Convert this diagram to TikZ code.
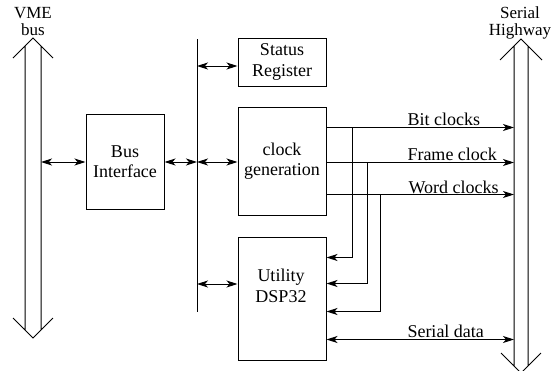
\documentclass[tikz,border=0pt]{standalone}
\usepackage{fontspec}
\setmainfont{Liberation Serif}
\usetikzlibrary{positioning,arrows.meta}

\begin{document}
\begin{tikzpicture}[x=1pt, y=-1pt,
        font=\fontsize{18}{20.5}\selectfont,
        line width=1pt,
        block/.style={draw, minimum width=88pt, inner sep=0pt, align=center},
        lbl/.style={inner sep=0pt, align=center},
        buslbl/.style={lbl, font=\fontsize{17}{17}\selectfont},
        >={Stealth[length=11pt, width=7pt, inset=3pt]} % Pfeilspitzen
        ]
            \useasboundingbox (0,0) rectangle (555,370);

            % Bloecke
            \node[block, minimum width=78pt, minimum height=95pt] (bi) at (125,161.5) {Bus\\Interface};
            \node[block, minimum height=48pt]  (sr)  at (282,62)    {Status\\Register};
            \node[block, minimum height=108pt] (cg)  at (282,161)   {clock\\generation};
            \node[block, minimum height=123pt] (dsp) at (282,298.5) {};
            \node[lbl] (dsptxt) at (281,286) {Utility\\DSP32};

            % VME-Bus (links)
            \coordinate (vmetop) at (33,38);
            \coordinate (vmebot) at (33,338);
            \draw   (13,58) -- (vmetop) -- (53,58)
                    (13,318) -- (vmebot) -- (53,318)
                    (25,46) -- (25,330)
                    (41,46) -- (41,330);
            \node[buslbl] (tvme) at (33,22) {VME\\bus};

            % Serial Highway (rechts)
            \coordinate (shtop) at (521,39);
            \coordinate (shbot) at (521,373);
            \draw   (500,60) -- (shtop) -- (542,60)
                    (501,353) -- (shbot) -- (541,353)
                    (514,46) -- (514,366)
                    (528,46) -- (528,366);
            \node[buslbl] (tsh) at (520,23) {Serial\\Highway};
            \coordinate (shl) at (514,0);

            % interner Bus
            \coordinate (ibtop) at (197,39);
            \coordinate (ibbot) at (197,312);
            \draw (ibtop) -- (ibbot);

            % Anschluesse an die Busse
            \coordinate (tvm) at (41,162);
            \coordinate (tbi) at (197,162);
            \coordinate (tsr) at (197,66);
            \coordinate (tds) at (197,284);
            \draw[<->] (tvm) -- (tvm -| bi.west);
            \draw[<->] (tvm -| bi.east) -- (tbi);
            \draw[<->] (tsr) -- (tsr -| sr.west);
            \draw[<->] (tbi) -- (tbi -| cg.west);
            \draw[<->] (tds) -- (tds -| dsp.west);

            % Takte
            \path (cg.north east) ++(0,21) coordinate (bit)
                  (cg.north east) ++(0,56) coordinate (frame)
                  (cg.north east) ++(0,88) coordinate (word);
            \path (dsp.north east) ++(0,21)  coordinate (in1)
                  (dsp.north east) ++(0,47)  coordinate (in2)
                  (dsp.north east) ++(0,75)  coordinate (in3)
                  (dsp.north east) ++(0,103) coordinate (in4);
            \draw[->] (bit)   -- (bit -| shl);
            \draw[->] (frame) -- (frame -| shl);
            \draw[->] (word)  -- (word -| shl);
            \draw[<->] (in4)  -- (in4 -| shl);

            \path (bit)   ++(26,0) coordinate (bitx)
                  (frame) ++(41,0) coordinate (framex)
                  (word)  ++(54,0) coordinate (wordx);
            \draw[->] (bitx)   |- (in1);
            \draw[->] (framex) |- (in2);
            \draw[->] (wordx)  |- (in3);

            % Beschriftungen
            \node[lbl, anchor=base west] (tbit)   at (407,125) {Bit clocks};
            \node[lbl, anchor=base west] (tframe) at (407,160) {Frame clock};
            \node[lbl, anchor=base west] (tword)  at (408,193) {Word clocks};
            \node[lbl, anchor=base west] (tsd)    at (407,337) {Serial data};

        \end{tikzpicture}
\end{document}
